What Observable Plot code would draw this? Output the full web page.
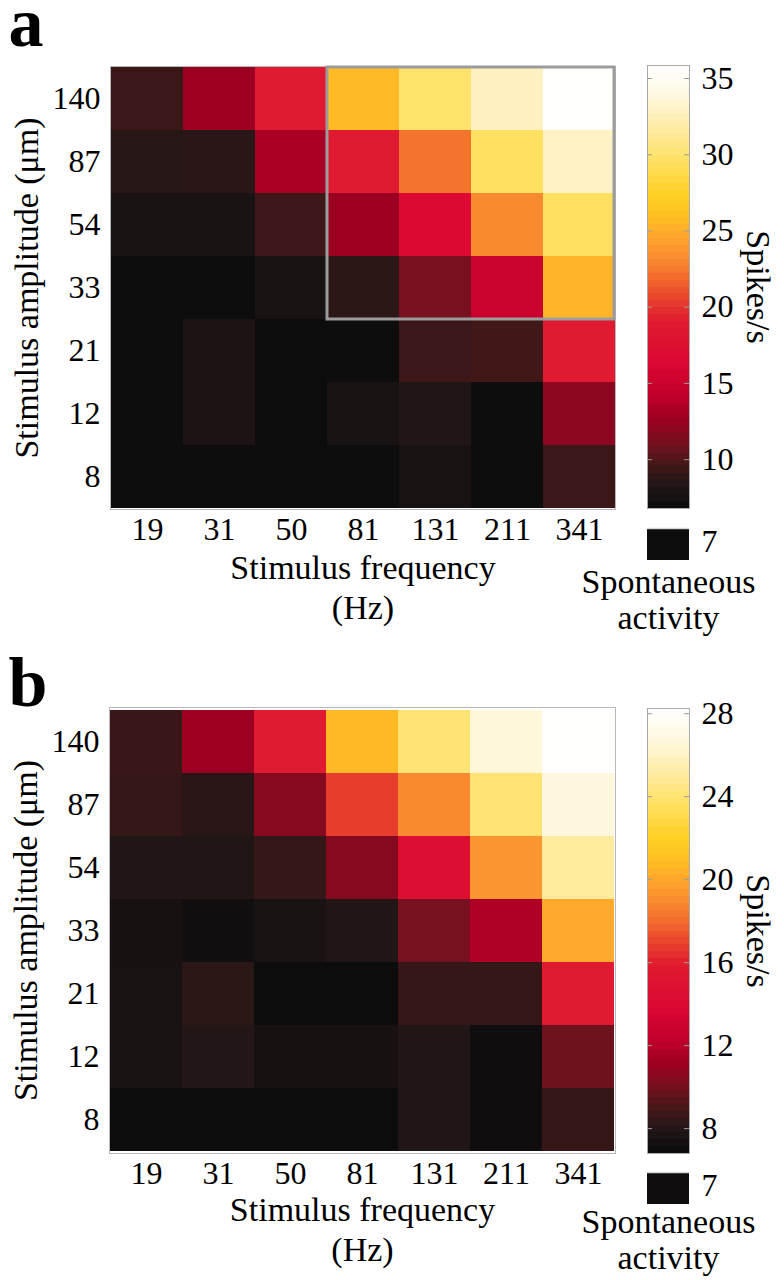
<!DOCTYPE html>
<html><head><meta charset="utf-8">
<script src="https://cdn.jsdelivr.net/npm/d3@7"></script>
<script src="https://cdn.jsdelivr.net/npm/@observablehq/plot@0.6"></script>
<style>
body{margin:0;background:#fff;}
#root{position:relative;width:784px;height:1280px;overflow:hidden;background:#fff;}
#root svg{position:absolute;overflow:visible;}
</style></head><body><div id="root"></div>
<script>
// ---------- data ----------
const frequencies = ["19","31","50","81","131","211","341"];   // Hz
const amplitudes  = ["140","87","54","33","21","12","8"];      // µm, top to bottom

// panel a: spikes/s, rows = amplitudes (140 ... 8), columns = frequencies
const spikesA = [
  [9.3, 12.6, 19.0, 25.7, 29.8, 32.7, 35.6],
  [8.5,  8.6, 13.2, 19.0, 22.3, 29.5, 32.8],
  [7.7,  7.7,  9.4, 12.6, 16.7, 23.2, 29.5],
  [7.0,  6.9,  7.8,  8.7, 11.2, 14.9, 25.4],
  [7.0,  7.9,  6.9,  7.0,  9.3,  9.5, 19.0],
  [7.0,  7.9,  6.9,  7.7,  8.25, 7.0, 12.0],
  [6.9,  6.9,  6.9,  7.0,  7.7,  7.0,  9.3]
];
// panel b
const spikesB = [
  [8.6, 11.1, 15.8, 20.7, 24.0, 26.6, 28.2],
  [8.5,  8.1, 10.4, 16.8, 18.9, 24.0, 26.7],
  [7.9,  7.9,  8.5, 10.4, 14.5, 19.3, 25.0],
  [7.4,  7.1,  7.5,  7.9, 10.0, 11.7, 20.1],
  [7.5,  8.2,  6.9,  6.9,  8.5,  8.5, 15.8],
  [7.5,  7.95, 7.4,  7.4,  7.9,  7.0,  9.8],
  [6.9,  6.85, 6.85, 6.9,  7.85, 7.0,  8.5]
];
const spontaneousA = 7;
const spontaneousB = 7;
const colorTicksA = [10, 15, 20, 25, 30, 35];
const colorTicksB = [8, 12, 16, 20, 24, 28];
const colorRangeA = [6.8, 35.85];
const colorRangeB = [6.8, 28.25];
const highlightA = [{f1: "81", f2: "341", a1: "140", a2: "33"}];

// colormap (fraction of colour range -> colour)
const cmapStops  = [0, 0.05, 0.10, 0.15, 0.20, 0.26, 0.33, 0.42, 0.47, 0.52, 0.57, 0.62, 0.67, 0.71, 0.78, 0.86, 0.93, 1];
const cmapColors = ["#0b0b0c","#201616","#461818","#781020","#9c0020","#c4002c","#dc0832","#e01a30","#e8402c",
                    "#f26a2c","#fa8e30","#ffaa2c","#ffc420","#ffd024","#ffe060","#ffeca8","#fff8e0","#ffffff"];

// ---------- drawing ----------
const FONT = '"Liberation Serif","Times New Roman",serif';
const TICK = 32, TITLE = 34;
const root = document.getElementById("root");

function colorOpts([lo, hi]) {
  return {type: "linear", domain: cmapStops.map(t => lo + t * (hi - lo)), range: cmapColors, interpolate: "rgb", clamp: true};
}
function place(svg, left, top) {
  svg.style.left = left + "px";
  svg.style.top = top + "px";
  root.appendChild(svg);
}

function panel(cfg) {
  const cells = cfg.values.flatMap((row, i) => row.map((v, j) => ({amp: amplitudes[i], freq: frequencies[j], v})));
  const fr = cfg.frame;
  const W = 640, H = 640;
  const marks = [
    Plot.cell(cells, {x: "freq", y: "amp", fill: "v", shapeRendering: "crispEdges"}),
    Plot.frame({stroke: "#b8b8b8"}),
    Plot.axisX({tickSize: 0, tickPadding: 8, fontSize: TICK, label: null}),
    Plot.axisY({tickSize: 0, tickPadding: 10, fontSize: TICK, label: null}),
    Plot.text(["Stimulus frequency\n(Hz)"], {text: d => d, frameAnchor: "bottom", textAnchor: "middle", lineAnchor: "bottom",
      dy: cfg.xTitleDy, lineHeight: 1.16, fontSize: TITLE}),
    Plot.text(["Stimulus amplitude (μm)"], {text: d => d, frameAnchor: "left", textAnchor: "middle", lineAnchor: "middle",
      rotate: -90, dx: -83, fontSize: TITLE}),
    Plot.text([cfg.letter], {text: d => d, frameAnchor: "top-left", textAnchor: "start", lineAnchor: "bottom",
      dx: 8 - fr.left, dy: cfg.letterBase - fr.top, fontSize: 70, fontWeight: "bold"})
  ];
  if (cfg.highlight) {
    marks.push(Plot.rect(cfg.highlight, {x1: "f1", x2: "f2", y1: "a1", y2: "a2",
      insetRight: 1, fill: "none", stroke: "#9c9c9c", strokeWidth: 3}));
  }
  const main = Plot.plot({
    width: W, height: H,
    marginLeft: fr.left, marginRight: W - fr.right,
    marginTop: fr.top - cfg.top, marginBottom: H - (fr.bottom - cfg.top),
    style: {background: "transparent", fontFamily: FONT, color: "#000", overflow: "visible"},
    x: {domain: frequencies, padding: 0},
    y: {domain: amplitudes, padding: 0},
    color: colorOpts(cfg.colorRange),
    marks
  });
  place(main, 0, cfg.top);

  // colour bar
  const [lo, hi] = cfg.colorRange;
  const n = 64;
  const slices = d3.range(n).map(i => ({y1: lo + i * (hi - lo) / n, y2: lo + (i + 1) * (hi - lo) / n, v: lo + (i + 0.5) * (hi - lo) / n}));
  const cbW = 224, cbH = 600, cbLeft = 560;
  const cb = Plot.plot({
    width: cbW, height: cbH,
    marginLeft: cfg.bar.left - cbLeft, marginRight: cbW - (cfg.bar.right - cbLeft),
    marginTop: cfg.bar.top - cfg.top, marginBottom: cbH - (cfg.bar.bottom - cfg.top),
    style: {background: "transparent", fontFamily: FONT, color: "#000", overflow: "visible"},
    x: {domain: [0, 1], axis: null},
    y: {domain: cfg.colorRange},
    color: colorOpts(cfg.colorRange),
    marks: [
      Plot.rect(slices, {x1: 0, x2: 1, y1: "y1", y2: "y2", fill: "v", shapeRendering: "crispEdges"}),
      Plot.ruleY(cfg.ticks, {x1: 0, x2: 0.12, stroke: "#999"}),
      Plot.ruleY(cfg.ticks, {x1: 0.88, x2: 1, stroke: "#999"}),
      Plot.frame({stroke: "#aaa"}),
      Plot.axisY(cfg.ticks, {anchor: "right", tickSize: 0, tickPadding: 12, fontSize: TICK, label: null}),
      Plot.text(["Spikes/s"], {text: d => d, frameAnchor: "right", textAnchor: "middle", lineAnchor: "middle",
        rotate: 90, dx: 68, fontSize: TITLE})
    ]
  });
  place(cb, cbLeft, cfg.top);

  // spontaneous activity swatch
  const spH = 106, boxH = cfg.box.bottom - cfg.box.top;
  const sp = Plot.plot({
    width: cbW, height: spH,
    marginLeft: cfg.bar.left - cbLeft, marginRight: cbW - (cfg.bar.right - cbLeft),
    marginTop: 2, marginBottom: spH - 2 - boxH,
    style: {background: "transparent", fontFamily: FONT, color: "#000", overflow: "visible"},
    x: {domain: ["spont"], padding: 0, axis: null},
    y: {domain: [String(cfg.spont)], padding: 0},
    color: colorOpts(cfg.colorRange),
    marks: [
      Plot.cell([{k: "spont", s: String(cfg.spont), v: cfg.spont}], {x: "k", y: "s", fill: "v"}),
      Plot.ruleY([String(cfg.spont)], {y: d => d, dy: -boxH / 2, stroke: "#d8d8d8", strokeWidth: 1.5}),
      Plot.axisY({anchor: "right", tickSize: 0, tickPadding: 12, fontSize: TICK, label: null, dy: -3}),
      Plot.text(["Spontaneous\nactivity"], {text: d => d, frameAnchor: "bottom", textAnchor: "middle", lineAnchor: "bottom",
        dy: cfg.spontTitleDy, lineHeight: 1.04, fontSize: TITLE})
    ]
  });
  place(sp, cbLeft, cfg.box.top - 2);
}

panel({
  letter: "a", letterBase: 45, top: 0,
  values: spikesA, colorRange: colorRangeA, ticks: colorTicksA, spont: spontaneousA,
  frame: {left: 110, right: 615, top: 66, bottom: 509},
  bar: {left: 647, right: 689, top: 65, bottom: 508},
  box: {top: 528, bottom: 560},
  xTitleDy: 109, spontTitleDy: 68,
  highlight: highlightA
});
panel({
  letter: "b", letterBase: 705, top: 640,
  values: spikesB, colorRange: colorRangeB, ticks: colorTicksB, spont: spontaneousB,
  frame: {left: 109, right: 615, top: 707, bottom: 1153},
  bar: {left: 647, right: 689, top: 708, bottom: 1153},
  box: {top: 1172, bottom: 1204},
  xTitleDy: 107, spontTitleDy: 64,
  highlight: null
});
</script></body></html>
